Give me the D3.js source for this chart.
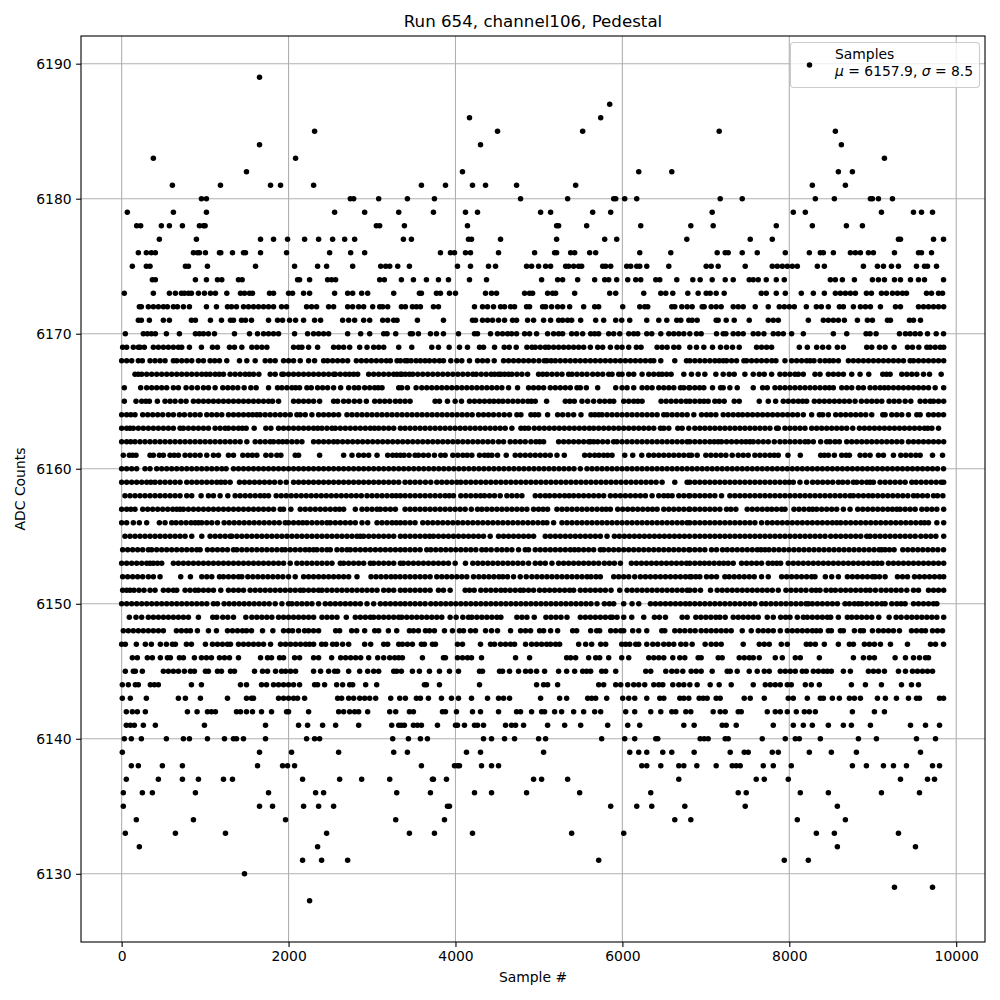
<!DOCTYPE html>
<html><head><meta charset="utf-8">
<script src="https://cdn.jsdelivr.net/npm/d3@7/dist/d3.min.js"></script>
<style>html,body{margin:0;padding:0;background:#fff}svg{display:block}text{font-family:"DejaVu Sans",sans-serif;fill:#000}</style>
</head><body><svg id="c" width="1000" height="1000"></svg>
<script>
const title="Run 654, channel106, Pedestal", xLabel="Sample #", yLabel="ADC Counts";
const xTicks=[0,2000,4000,6000,8000,10000], yTicks=[6130,6140,6150,6160,6170,6180,6190];
const legendTitle="Samples";
const s6128=[2252],s6129=[9260,9716],s6130=[1472],s6131=[2168,2396,2708,5716,7940,8228],s6132=[212,2348,8576,9512];
const s6133=[44,644,1244,2456,3448,3748,4204,5392,6016,8324,8540,9308];
const s6134=[176,860,1964,3284,3868,6628,6820,8096,8672];
const s6135=[20,1652,1808,2180,2360,2540,3904,3928,5860,6172,6352,6748,7472,8576];
const s6136=[20,248,368,884,1760,2324,2420,3296,3700,4228,4432,4852,5488,6340,7388,7484,8132,8468,9104,9560];
const s6137=[56,440,728,920,1220,1328,2168,2612,2876,3212,3724,3736,3892,4936,5032,5344,6676,7604,7700,7988,9332,9656,9740];
const s6138=[116,200,488,728,1628,1928,1988,2072,3592,3988,4024,4048,4312,4432,4516,6232,6292,6460,6676,6736,6892,7124,7316,7364,7412,7688,7808,8024,8756,8924,9128,9248,9404,9716,9800];
const s6139=[8,1652,2036,2600,3260,3424,4132,4300,5056,6088,6196,6292,6484,6592,6860,7292,7460,7508,7796,7868,8240,8504,8804,9572];
const s6140=[32,116,236,536,740,812,1028,1232,1340,1376,1460,1724,2216,2312,2372,3248,3436,3580,3664,4336,4432,4588,4708,4996,5080,5752,6028,6148,6400,6424,6932,6980,7028,7232,7268,7676,7952,8072,8120,8372,8828,9044,9524,9752];
const s6141=[56,104,152,260,404,992,1724,2120,2228,2408,2564,2840,3236,3320,3352,3388,3496,3544,3592,3784,4000,4024,4108,4228,4264,4336,4600,4672,4720,4816,5104,5308,5500,5824,6064,6208,6736,6860,7196,7244,7364,7808,8048,8168,8276,8468,8648,8744,8972,9452,9632,9800];
const s6142=[56,128,188,284,788,904,1028,1076,1124,1376,1424,1496,1568,1676,1796,1976,2000,2240,2600,2660,2732,2792,2840,2948,3212,3284,3448,3496,3844,3880,4012,4204,4300,4516,4732,4780,4912,5032,5068,5188,5272,5416,5536,5668,5740,6040,6148,6340,6460,6592,6640,6760,6820,7088,7172,7232,7388,7424,7736,7832,7892,7976,8084,8180,8240,8312,8756,9020,9140];
const s6143=[8,104,296,680,764,944,1268,1496,1556,1580,1880,1940,2000,2060,2108,2192,2588,2636,2720,2780,2852,2912,2972,3044,3224,3332,3400,3532,3580,3676,3832,3952,4036,4192,4384,4516,4576,4648,5020,5248,5332,5584,5632,5680,5812,6004,6076,6148,6292,6448,6496,6688,6736,6796,6920,6968,7016,7124,7172,7460,7532,7700,7988,8048,8216,8372,8408,8516,8600,8720,8780,8852,9056,9152,9284,9428,9524,9560,9800,9848];
const s6144=[8,80,164,200,344,392,440,836,956,1424,1496,1676,1736,1820,1880,1940,2000,2060,2132,2312,2348,2432,2576,2648,2732,2768,2924,3056,3628,3652,3808,4288,4972,5056,5104,5224,5716,5776,5920,5980,6064,6136,6196,6268,6376,6436,6484,6604,6676,6736,6808,6896,7052,7160,7304,7568,7712,7772,7832,7892,7976,8024,8192,8264,8360,8744,8912,9104,9344,9464,9548];
const s6145=[44,140,164,248,500,560,620,680,752,824,872,1004,1040,1148,1196,1304,1352,1592,1688,1748,1844,1916,1964,2024,2084,2300,2384,2480,2552,2588,2720,2852,2948,3020,3080,3260,3296,3352,3484,3568,3688,3808,3928,4036,4288,4324,4528,4564,4648,4756,4840,4900,4972,5068,5236,5332,5428,5524,5572,5620,5752,5800,5920,6280,6340,6520,6592,6652,6724,6824,6884,6944,7076,7256,7292,7376,7520,7616,7700,7760,7892,7952,8012,8072,8156,8204,8288,8348,8408,8456,8504,8648,8732,8948,9008,9068,9140,9308,9392,9476,9536,9596,9656,9716];
const s6146=[128,188,308,368,464,548,584,692,740,872,956,1016,1076,1172,1232,1292,1400,1664,1748,1796,1892,1940,2072,2132,2300,2360,2516,2624,2684,2744,2804,2864,2960,3068,3140,3212,3272,3320,3364,3604,3856,3880,4024,4084,4144,4192,4312,4720,4888,5332,5380,5440,5596,5680,5728,5836,5992,6076,6316,6376,6436,6496,6604,6688,6748,6908,6944,7148,7196,7400,7460,7520,7568,7640,7832,7916,8072,8132,8360,8768,8888,8960,9020,9268,9392,9488,9560,9632,9668];
const s6147=[0,44,176,284,356,464,536,608,644,776,836,1004,1088,1148,1208,1268,1304,1400,1460,1520,1580,1640,1700,1784,1904,1964,2024,2084,2144,2204,2252,2300,2396,2444,2528,2576,2648,2720,2912,2984,3140,3188,3320,3364,3424,3484,3592,3628,3724,3760,4024,4084,4300,4420,4468,4540,4600,4660,4708,4840,4912,4972,5032,5092,5140,5200,5248,5476,5560,5632,5740,5800,5992,6040,6088,6160,6196,6292,6364,6424,6496,6556,6616,6700,6760,6836,6992,7064,7124,7184,7448,7640,7700,7760,7904,7976,8204,8252,8312,8420,8588,8720,8768,8900,8960,9020,9092,9212,9416,9692,9752,9848];
const s6148=[20,80,140,200,260,320,380,440,500,656,716,776,824,908,1040,1136,1268,1328,1388,1448,1496,1556,1688,1812,1940,2000,2048,2120,2192,2240,2300,2360,2564,2612,2756,2816,2912,3032,3080,3196,3296,3448,3496,3556,3640,3688,3748,3868,3964,4048,4096,4180,4240,4360,4432,4504,4660,4780,4840,4900,5008,5056,5140,5224,5404,5452,5620,5692,5728,5860,5920,5980,6016,6124,6196,6292,6472,6508,6628,6688,6748,6812,6872,6944,7004,7064,7124,7184,7244,7304,7436,7544,7628,7688,7748,7808,7892,7976,8036,8096,8156,8216,8276,8324,8372,8468,8504,8612,8648,8780,8852,8888,8996,9068,9128,9188,9248,9320,9464,9524,9584,9632,9716,9776,9836];
const s6149=[92,172,240,320,380,440,500,560,620,680,740,800,920,1092,1140,1212,1272,1340,1488,1560,1620,1680,1740,1800,1880,1940,2000,2060,2120,2180,2240,2300,2400,2460,2520,2580,2692,2800,2860,2920,2980,3020,3080,3140,3200,3260,3320,3356,3416,3476,3536,3596,3656,3716,3776,3836,3936,4008,4088,4156,4196,4256,4316,4376,4436,4496,4544,4736,4796,4856,4944,5084,5144,5204,5264,5336,5496,5556,5616,5676,5736,5796,5856,5880,5936,6016,6112,6256,6384,6444,6516,6716,6776,6880,6940,7000,7060,7120,7168,7232,7328,7388,7448,7508,7568,7628,7736,7808,7896,7956,8008,8096,8168,8216,8276,8336,8396,8456,8496,8588,8696,8748,8808,8868,8928,8988,9072,9196,9280,9340,9408,9468,9528,9588,9648,9708,9768,9850];
const s6150=[0,60,120,180,240,300,360,420,480,540,600,660,720,780,840,900,960,1020,1100,1148,1228,1288,1348,1408,1468,1528,1588,1648,1708,1768,1840,1920,2000,2040,2100,2160,2220,2280,2360,2440,2500,2560,2620,2680,2740,2800,2860,2940,3020,3100,3160,3220,3280,3340,3396,3456,3516,3576,3636,3704,3764,3824,3884,3944,4004,4064,4124,4184,4244,4304,4364,4424,4484,4544,4604,4664,4724,4784,4844,4904,4964,5024,5084,5144,5204,5264,5324,5384,5444,5504,5564,5624,5696,5784,5844,5896,6016,6116,6196,6336,6396,6456,6516,6576,6636,6696,6756,6808,6868,6928,6988,7048,7108,7168,7228,7288,7348,7408,7468,7528,7588,7668,7720,7780,7840,7900,7960,8020,8080,8140,8200,8228,8276,8336,8396,8456,8516,8576,8668,8720,8780,8828,8868,8928,8988,9048,9108,9148,9228,9288,9340,9388,9488,9548,9608,9668,9728,9768];
const s6151=[12,60,100,148,208,268,340,400,500,560,620,660,760,820,880,920,980,1040,1100,1188,1280,1340,1400,1460,1540,1600,1660,1720,1780,1840,1900,1960,2020,2080,2140,2180,2240,2300,2360,2400,2460,2520,2580,2640,2700,2760,2820,2880,2940,3000,3060,3140,3200,3260,3340,3396,3456,3516,3576,3636,3696,3796,3856,3936,4116,4168,4224,4304,4364,4424,4484,4544,4596,4656,4716,4776,4816,4876,4936,5008,5068,5128,5188,5248,5308,5368,5416,5496,5556,5616,5676,5736,5796,5864,5968,6056,6116,6176,6236,6296,6356,6416,6476,6536,6596,6656,6716,6776,6808,6868,6936,7056,7136,7196,7256,7316,7376,7436,7496,7556,7616,7676,7736,7796,7868,7960,8020,8080,8140,8200,8268,8320,8368,8440,8500,8552,8616,8676,8736,8796,8856,8916,8968,9032,9100,9160,9220,9280,9340,9408,9488,9548,9668,9728,9788,9850];
const s6152=[12,72,132,192,252,320,380,460,708,824,960,1020,1080,1172,1220,1280,1340,1400,1440,1512,1572,1632,1692,1752,1812,1872,1932,2000,2080,2180,2240,2300,2360,2420,2480,2540,2600,2660,2720,2820,2988,3048,3108,3168,3228,3280,3336,3396,3456,3516,3576,3636,3696,3776,3836,3896,3956,4016,4076,4136,4216,4280,4340,4400,4460,4520,4568,4624,4696,4776,4848,4916,4976,5036,5096,5156,5216,5276,5336,5396,5456,5516,5576,5624,5684,5736,5896,5956,6016,6076,6148,6216,6276,6336,6396,6456,6516,6576,6636,6696,6756,6808,6828,6880,6928,7008,7068,7128,7228,7280,7340,7400,7460,7520,7580,7668,7748,7908,7968,8028,8088,8148,8208,8268,8308,8432,8508,8588,8696,8756,8816,8876,8936,8996,9028,9080,9148,9296,9356,9416,9500,9560,9620,9680,9740,9800,9850];
const s6153=[0,60,120,180,240,300,340,380,430,480,620,680,740,800,860,920,980,1040,1100,1160,1220,1280,1340,1400,1460,1520,1580,1640,1700,1760,1820,1880,1940,2020,2100,2160,2220,2280,2340,2400,2460,2520,2620,2660,2720,2780,2840,2900,2980,3020,3080,3140,3200,3260,3340,3376,3436,3496,3556,3616,3676,3736,3796,3856,3916,3996,4120,4208,4268,4328,4388,4448,4508,4568,4628,4688,4748,4808,4876,4956,5016,5076,5156,5236,5296,5356,5416,5476,5536,5596,5656,5716,5784,5844,5904,5976,6108,6168,6228,6288,6348,6408,6468,6528,6588,6648,6708,6768,6808,6868,6928,6984,7040,7100,7160,7214,7268,7328,7428,7488,7548,7608,7668,7748,7800,7850,7896,7988,8048,8108,8168,8228,8288,8348,8408,8468,8528,8588,8648,8708,8768,8828,8888,8948,9008,9058,9108,9188,9248,9308,9368,9428,9488,9548,9608,9668,9728,9788,9850];
const s6154=[12,72,132,192,252,320,360,420,480,540,600,660,720,780,840,900,940,1028,1088,1148,1208,1268,1340,1380,1440,1500,1560,1620,1680,1740,1800,1860,1920,1960,2020,2080,2140,2200,2250,2300,2340,2400,2460,2500,2580,2640,2700,2740,2800,2860,2920,2980,3040,3100,3160,3220,3280,3340,3396,3456,3516,3576,3656,3704,3764,3824,3884,3944,4004,4064,4124,4184,4244,4316,4368,4428,4496,4556,4616,4676,4756,4836,4876,4956,5016,5076,5136,5196,5256,5316,5376,5426,5476,5536,5596,5656,5736,5776,5836,5896,5956,6016,6076,6136,6196,6256,6316,6376,6436,6496,6556,6616,6676,6736,6796,6808,6868,6928,6988,7068,7128,7200,7256,7316,7376,7436,7496,7556,7616,7660,7708,7756,7816,7876,7936,7996,8056,8116,8176,8236,8296,8356,8416,8476,8536,8596,8656,8716,8776,8836,8896,8956,9016,9076,9108,9148,9200,9256,9360,9420,9480,9540,9600,9660,9720,9780,9848];
const s6155=[40,100,160,220,280,340,400,460,520,580,640,700,760,840,960,1060,1120,1180,1240,1300,1320,1380,1440,1500,1560,1620,1680,1740,1800,1860,1920,1980,2040,2100,2160,2220,2280,2340,2400,2460,2520,2580,2640,2700,2760,2820,2860,2900,2960,3020,3080,3140,3200,3260,3340,3396,3456,3516,3576,3636,3690,3736,3796,3856,3916,3976,4036,4096,4156,4216,4276,4336,4416,4516,4576,4636,4696,4756,4816,4876,4936,5076,5136,5196,5256,5316,5376,5436,5496,5556,5616,5676,5736,5816,5904,5964,6024,6084,6144,6204,6264,6324,6384,6444,6504,6564,6624,6684,6744,6804,6868,6928,6988,7048,7108,7168,7228,7288,7348,7408,7468,7528,7588,7648,7708,7768,7828,7888,7948,8008,8068,8128,8188,8248,8308,8368,8428,8496,8556,8616,8676,8736,8796,8856,8928,8968,9028,9088,9148,9208,9268,9328,9388,9448,9508,9576,9636,9696,9756,9850];
const s6156=[0,60,140,212,300,452,520,600,652,712,772,832,880,920,960,1020,1080,1148,1228,1288,1348,1408,1468,1528,1588,1648,1708,1768,1828,1888,1960,2000,2060,2120,2170,2220,2280,2340,2400,2460,2500,2560,2620,2680,2740,2800,2880,2948,3060,3120,3180,3240,3290,3340,3396,3456,3516,3608,3668,3728,3788,3848,3908,3968,4028,4088,4148,4208,4268,4328,4388,4448,4508,4568,4628,4688,4748,4808,4868,4928,4988,5048,5096,5176,5276,5336,5396,5456,5516,5576,5636,5696,5756,5816,5876,5936,5996,6056,6116,6176,6236,6296,6356,6416,6476,6536,6596,6656,6716,6776,6808,6868,6928,6988,7048,7108,7168,7228,7288,7348,7408,7468,7528,7588,7668,7736,7796,7856,7916,7976,8036,8096,8156,8216,8276,8336,8396,8456,8516,8568,8616,8676,8736,8796,8856,8916,8976,9036,9096,9156,9216,9276,9336,9396,9456,9516,9576,9620,9668,9768,9850];
const s6157=[0,60,110,160,252,312,372,432,492,552,612,660,700,740,800,860,920,980,1040,1100,1160,1220,1280,1340,1400,1460,1520,1580,1640,1700,1760,1820,1900,1940,2028,2140,2200,2260,2320,2380,2440,2500,2560,2610,2660,2800,2880,2940,3000,3060,3100,3160,3220,3280,3396,3456,3516,3576,3636,3696,3756,3816,3876,3936,3996,4056,4116,4190,4264,4316,4376,4436,4496,4556,4616,4676,4736,4796,4856,4936,4996,5050,5104,5216,5276,5336,5396,5456,5516,5576,5636,5696,5756,5806,5856,5944,6004,6064,6124,6184,6244,6304,6360,6416,6496,6556,6616,6676,6736,6796,6808,6868,6928,6988,7048,7108,7168,7248,7300,7360,7496,7556,7616,7676,7736,7790,7848,7908,7948,8056,8116,8176,8236,8280,8328,8388,8448,8508,8568,8648,8728,8820,8880,8940,9000,9060,9120,9180,9235,9288,9328,9388,9448,9508,9588,9648,9708,9768,9850];
const s6158=[40,100,160,220,280,340,400,460,520,580,640,700,780,840,952,1040,1100,1180,1272,1360,1420,1480,1540,1600,1660,1710,1760,1852,1912,1972,2032,2092,2152,2212,2272,2332,2392,2452,2512,2572,2632,2692,2752,2812,2872,2940,3000,3060,3120,3180,3240,3290,3340,3396,3456,3516,3576,3636,3696,3756,3816,3876,3926,3976,4064,4124,4184,4244,4300,4348,4408,4468,4536,4616,4676,4736,4796,4956,5016,5076,5128,5188,5248,5308,5362,5416,5476,5536,5596,5656,5716,5776,5856,5916,5976,6036,6096,6156,6216,6276,6356,6436,6496,6546,6596,6676,6736,6796,6808,6868,6928,6988,7048,7108,7188,7288,7348,7408,7468,7528,7588,7648,7708,7768,7828,7888,7948,8008,8068,8128,8188,8248,8308,8368,8428,8488,8548,8608,8668,8728,8768,8828,8888,8948,9000,9060,9120,9180,9240,9300,9360,9420,9488,9536,9596,9656,9728,9776,9840];
const s6159=[0,60,120,180,240,300,350,400,460,520,580,640,700,780,840,900,960,1020,1080,1140,1190,1240,1300,1412,1472,1532,1592,1652,1712,1772,1832,1900,1972,2060,2120,2180,2240,2300,2360,2420,2480,2540,2600,2660,2720,2780,2840,2900,2960,3020,3080,3140,3200,3260,3320,3396,3456,3516,3576,3640,3704,3776,3836,3896,3956,4016,4064,4124,4184,4244,4304,4364,4424,4484,4544,4604,4664,4724,4784,4844,4904,4964,5024,5084,5144,5204,5264,5324,5384,5444,5504,5564,5624,5684,5744,5804,5864,5924,5984,6044,6104,6164,6224,6284,6344,6404,6476,6628,6776,6808,6868,6928,6988,7048,7108,7168,7228,7288,7348,7408,7468,7528,7588,7648,7708,7768,7828,7888,7948,8000,8048,8128,8208,8280,8340,8400,8460,8520,8588,8640,8700,8768,8808,8868,8928,8968,9008,9088,9148,9208,9268,9328,9388,9468,9520,9580,9640,9700,9760,9820,9850];
const s6160=[0,60,120,180,280,340,420,480,540,600,660,720,780,840,900,960,1020,1080,1140,1200,1252,1340,1400,1460,1520,1580,1640,1700,1760,1820,1880,1940,2000,2060,2120,2180,2240,2300,2360,2420,2480,2540,2600,2660,2720,2780,2840,2900,2960,3020,3080,3140,3200,3260,3320,3380,3440,3500,3560,3620,3680,3740,3800,3860,3920,3980,4040,4100,4160,4220,4280,4340,4400,4460,4520,4580,4640,4700,4760,4820,4880,4940,5000,5060,5120,5180,5240,5300,5360,5420,5496,5576,5636,5696,5756,5816,5876,5936,5996,6056,6116,6176,6236,6296,6356,6416,6476,6536,6596,6656,6716,6776,6836,6896,6956,7016,7076,7136,7196,7256,7316,7376,7436,7496,7556,7616,7676,7736,7796,7856,7916,7976,8036,8096,8156,8216,8276,8336,8396,8456,8516,8576,8636,8696,8756,8816,8876,8936,8996,9056,9116,9176,9236,9296,9356,9416,9476,9536,9596,9656,9716,9776,9848];
const s6161=[20,92,130,172,340,380,452,500,580,630,680,760,820,880,940,1020,1100,1160,1280,1340,1452,1512,1566,1620,1728,1790,1860,1908,2080,2120,2372,2660,2760,2840,2900,2960,3060,3188,3248,3294,3340,3384,3444,3516,3556,3616,3676,3748,3824,3876,3968,4028,4088,4140,4196,4288,4348,4392,4436,4504,4608,4716,4776,4836,4896,4956,5016,5076,5136,5216,5304,5548,5608,5668,5720,5776,5824,5876,6028,6124,6232,6316,6376,6436,6496,6556,6616,6676,6736,6796,6828,6896,7000,7060,7120,7180,7240,7316,7388,7448,7508,7588,7648,7708,7768,7820,7868,7984,8132,8376,8420,8468,8540,8628,8680,8720,8848,8908,8968,9068,9128,9248,9336,9396,9456,9516,9568,9716,9836];
const s6162=[0,60,108,160,220,280,340,400,460,520,580,640,700,760,820,880,940,1000,1060,1120,1180,1240,1300,1360,1420,1500,1600,1660,1720,1780,1820,1880,1930,1980,2040,2100,2160,2300,2360,2420,2480,2540,2588,2648,2708,2768,2828,2888,2948,3008,3068,3128,3188,3248,3308,3368,3428,3488,3548,3608,3668,3728,3788,3848,3908,3968,4028,4088,4148,4208,4268,4328,4388,4448,4516,4576,4656,4716,4776,4836,4904,4964,5010,5056,5236,5296,5356,5416,5476,5536,5596,5616,5656,5704,5764,5824,5896,5936,5996,6056,6116,6176,6236,6296,6356,6416,6476,6536,6596,6656,6716,6776,6808,6868,6928,6988,7048,7100,7148,7188,7248,7308,7368,7428,7480,7528,7568,7628,7688,7748,7820,7888,7948,8008,8068,8128,8188,8228,8288,8376,8448,8488,8548,8600,8688,8748,8808,8868,8928,8988,9048,9108,9168,9228,9288,9348,9428,9488,9548,9608,9668,9728,9788,9850];
const s6163=[0,60,100,140,200,260,320,380,440,500,560,620,700,740,800,860,920,980,1040,1120,1180,1240,1280,1340,1400,1446,1492,1588,1728,1788,1880,1940,2000,2060,2120,2180,2240,2300,2350,2400,2460,2520,2560,2620,2680,2740,2800,2860,2920,2980,3030,3080,3140,3200,3260,3340,3396,3456,3516,3576,3636,3696,3756,3816,3876,3936,3996,4056,4116,4176,4236,4296,4356,4416,4476,4536,4596,4676,4784,4830,4876,4944,5004,5064,5124,5184,5244,5304,5364,5424,5484,5544,5604,5656,5716,5776,5836,5896,5956,6016,6076,6136,6196,6256,6316,6376,6456,6496,6556,6664,6716,6796,6868,6928,6988,7048,7108,7168,7228,7288,7348,7408,7468,7528,7588,7648,7708,7768,7848,7868,7948,8008,8068,8128,8188,8268,8328,8388,8448,8508,8568,8628,8688,8760,8840,8900,8960,9020,9080,9140,9200,9260,9320,9380,9440,9500,9560,9620,9660,9708,9788];
const s6164=[0,60,110,160,252,312,372,432,492,560,620,692,752,820,880,940,1020,1080,1140,1200,1280,1340,1400,1460,1520,1570,1620,1660,1720,1780,1840,1900,1960,2020,2100,2140,2200,2280,2360,2420,2480,2540,2600,2700,2760,2820,2880,2940,3000,3060,3120,3180,3240,3300,3360,3420,3480,3540,3600,3660,3720,3780,3840,3900,3960,4020,4080,4140,4200,4276,4336,4396,4456,4520,4584,4648,4736,4784,4904,4950,4996,5104,5224,5284,5350,5416,5504,5624,5670,5716,5756,5816,5876,5936,5996,6056,6116,6176,6236,6296,6356,6416,6496,6536,6596,6656,6716,6776,6856,6948,7008,7060,7120,7208,7268,7328,7388,7440,7500,7560,7620,7680,7740,7800,7860,7920,7980,8040,8100,8168,8268,8360,8400,8468,8556,8616,8676,8736,8796,8856,8916,8988,9120,9148,9228,9288,9348,9428,9528,9568,9668,9728,9788,9848];
const s6165=[32,172,240,290,332,428,520,580,640,710,772,860,920,980,1040,1100,1160,1220,1280,1340,1400,1460,1520,1580,1640,1700,1760,1808,1880,2060,2120,2180,2240,2300,2372,2540,2588,2660,2720,2788,2852,2932,3032,3092,3152,3212,3280,3336,3396,3456,3756,3808,3904,3996,4072,4168,4228,4288,4348,4408,4460,4516,4568,4628,4688,4748,4808,4868,4910,4956,5092,5316,5370,5424,5516,5584,5656,5728,5788,5848,5896,6016,6076,6136,6186,6236,6464,6524,6584,6644,6704,6764,6808,6868,6928,6978,7028,7108,7160,7220,7340,7400,7640,7748,7836,7928,7988,8048,8108,8160,8208,8300,8360,8420,8480,8540,8600,8660,8720,8788,8864,8928,8988,9048,9108,9196,9256,9316,9388,9456,9568,9628,9688,9728,9788,9850];
const s6166=[32,228,300,360,420,480,540,620,680,772,840,908,980,1040,1120,1212,1272,1332,1392,1468,1548,1612,1760,1868,1920,1980,2040,2085,2132,2220,2272,2348,2408,2468,2540,2624,2720,2788,2840,2912,2972,3032,3075,3120,3320,3356,3424,3528,3596,3656,3716,3776,3836,3896,3956,4016,4076,4136,4196,4256,4316,4376,4436,4496,4556,4636,4744,4876,4936,4996,5056,5136,5196,5256,5316,5376,5456,5496,5568,5704,5920,5996,6056,6136,6236,6296,6356,6436,6496,6556,6616,6696,6736,6796,6808,6868,6925,6976,7080,7176,7208,7288,7376,7568,7680,7736,7828,7888,7948,8008,8068,8128,8188,8248,8308,8368,8428,8480,8528,8628,8688,8748,8828,8888,8968,9028,9088,9140,9188,9248,9308,9368,9428,9488,9548,9608,9668,9748,9850];
const s6167=[160,200,240,300,360,420,480,540,600,660,720,780,840,900,960,1012,1060,1120,1170,1220,1300,1360,1420,1480,1530,1580,1644,1780,1840,1920,1940,2000,2060,2120,2180,2240,2300,2360,2420,2480,2540,2560,2620,2680,2730,2780,2828,2960,3020,3080,3140,3200,3260,3300,3340,3356,3400,3448,3488,3548,3608,3668,3728,3788,3848,3908,3968,4028,4088,4148,4208,4248,4308,4368,4428,4470,4516,4544,4590,4636,4676,4736,4796,4864,4996,5046,5096,5156,5216,5276,5356,5396,5456,5516,5576,5644,5704,5764,5836,5876,5956,5996,6076,6136,6236,6316,6376,6436,6476,6530,6584,6736,6828,6908,6988,7120,7208,7280,7340,7468,7568,7640,7700,7788,7888,7948,8008,8068,8108,8168,8308,8368,8468,8528,8588,8648,8748,8848,8952,9120,9165,9208,9348,9408,9468,9528,9608,9680,9820];
const s6168=[0,60,120,200,248,340,400,460,520,620,660,720,780,840,920,980,1060,1115,1172,1260,1412,1500,1600,1720,1780,1840,1940,2000,2060,2140,2240,2312,2420,2468,2528,2588,2648,2708,2812,2872,2932,2992,3052,3112,3172,3220,3300,3340,3396,3424,3468,3528,3580,3636,3688,3748,3808,3856,3944,4016,4076,4168,4264,4324,4384,4464,4576,4636,4696,4756,4816,4876,4936,5000,5064,5096,5146,5196,5256,5316,5376,5436,5496,5556,5616,5676,5736,5796,5856,5916,5976,6036,6096,6156,6216,6276,6336,6376,6460,6628,6768,6808,6868,6928,6988,7048,7108,7160,7208,7248,7308,7368,7456,7488,7548,7608,7668,7728,7790,7840,7948,8028,8088,8148,8208,8250,8296,8368,8428,8480,8528,8588,8708,8768,8828,8888,8948,9008,9068,9128,9188,9248,9308,9368,9448,9488,9548,9608,9668,9728,9788,9850];
const s6169=[12,60,140,200,220,272,380,440,500,560,620,680,720,812,956,1088,1148,1292,1352,1440,1560,1620,1680,1740,2060,2120,2160,2240,2348,2540,2600,2660,2732,2852,2940,3020,3080,3140,3320,3476,3716,3796,3924,4048,4144,4288,4336,4468,4584,4644,4728,4856,4916,4956,5016,5076,5116,5176,5236,5296,5356,5416,5476,5536,5616,5704,5764,5856,5936,5996,6076,6168,6224,6416,6476,6536,6616,6676,6808,6888,6976,7080,7176,7248,7320,7400,7608,7668,7728,7788,8120,8216,8328,8400,8472,8576,8648,8928,8988,9080,9148,9256,9416,9476,9552,9648,9688,9748,9808,9850];
const s6170=[44,260,308,356,404,536,692,884,932,980,1040,1112,1352,1532,1628,1700,1760,1820,1880,2072,2228,2300,2360,2420,2480,2708,2864,2972,3140,3180,3284,3460,3484,3556,3700,3772,3856,4036,4228,4264,4420,4504,4564,4624,4672,4732,4828,4888,4972,5104,5176,5236,5284,5392,5452,5524,5620,5668,5716,5836,5896,5968,6076,6136,6184,6292,6352,6460,6556,6616,6676,6736,6808,6888,6944,7128,7208,7240,7328,7388,7448,7568,7628,7696,7808,7868,7928,8028,8168,8528,8688,8920,8968,9040,9320,9392,9448,9508,9568,9656,9760,9848];
const s6171=[200,236,332,500,572,836,884,1064,1196,1304,1340,1436,1484,1556,1760,1868,1928,2012,2084,2180,2312,2384,2648,2720,2792,2900,2972,3128,3188,3260,3300,3544,3856,4204,4240,4324,4384,4444,4516,4588,4684,4732,4864,4936,5056,5140,5236,5284,5344,5392,5500,5680,5776,5920,5992,6088,6292,6436,6532,6652,6700,6796,6836,6896,7124,7148,7244,7340,7520,7748,7808,7868,8228,8408,8468,8528,8588,8660,8816,8936,8996,9176,9212,9440,9488,9572];
const s6172=[212,236,320,380,440,500,548,620,668,740,812,1016,1136,1268,1316,1376,1460,1520,1580,1640,1700,1760,1820,1916,1976,2216,2276,2336,2480,2540,2708,2768,2840,2900,3008,3092,3128,3188,3352,3400,3484,3532,3580,3736,3796,4228,4324,4384,4456,4540,4588,4660,4708,4852,4888,5044,5080,5152,5224,5284,5368,5536,5668,5716,6004,6208,6268,6304,6592,6628,6712,6776,6836,6956,6980,7064,7124,7184,7328,7388,7448,7592,7748,7880,7940,8000,8060,8204,8324,8384,8468,8600,8648,8768,8852,8912,8972,9092,9272,9332,9548,9608,9668,9728,9788,9850];
const s6173=[32,380,572,644,716,752,800,836,920,992,1064,1124,1260,1424,1472,1532,1568,1772,1820,2000,2048,2180,2252,2552,2708,2768,2876,2948,3260,3568,3592,3772,3820,3928,4000,4360,4432,4492,4828,4888,4924,5104,5164,5200,5428,5848,5920,6256,6460,6520,6604,6784,6908,7004,7052,7124,7220,7664,7724,7844,7952,8144,8288,8420,8552,8612,8672,8732,8792,8924,8984,9104,9164,9236,9296,9356,9404,9644,9704,9788,9836];
const s6174=[368,404,884,1016,1148,1200,1400,1444,2108,2132,2252,2468,2516,2564,3092,3148,3352,3496,3652,3796,3916,4168,4372,5032,5224,5284,5464,5668,5788,5836,5932,6064,6160,6220,6400,6448,6652,6844,6932,7076,7232,7328,7520,7568,7628,7724,7844,7940,8492,8552,8636,8780,8996,9068,9140,9260,9332,9452,9548,9620,9848];
const s6175=[128,296,340,764,800,1028,1604,2072,2348,2456,2768,3104,3164,3212,3308,3448,4024,4180,4396,4480,4852,4912,4996,5080,5140,5320,5356,5416,5476,5512,5764,5800,5860,6052,6100,6172,6208,6292,6556,7004,7064,7148,7472,7796,7856,7916,7976,8036,8096,8336,8420,8888,9056,9128,9224,9308,9524,9620,9656,9764];
const s6176=[200,296,356,404,860,908,932,1004,1172,1188,1328,1460,1484,1664,1976,2492,2744,2912,3820,3940,3988,4120,4180,4516,4948,5188,5212,5380,5428,5608,5680,6208,6580,7136,7232,7268,7436,7616,7952,8240,8372,8408,8528,8732,8792,8852,8948,9008,9260,9548,9584,9704];
const s6177=[452,896,1664,1820,1988,2192,2360,2528,2672,2792,3376,3472,4156,4192,4540,5212,5788,5932,6772,7532,7796,9308,9332,9728,9848];
const s6178=[180,228,476,572,728,932,980,1000,3052,3092,3388,4144,5212,5236,5572,6220,6820,7088,7844,8276,8684,8876];
const s6179=[68,620,1016,2552,2912,3320,3736,4120,4264,5020,5140,5644,5860,7076,8048,8192,9104,9488,9584,9716];
const s6180=[956,1016,2740,2780,3080,3424,3748,4780,5344,5896,5920,6028,6172,7172,7436,8312,8540,8972,8996,9068,9236];
const s6181=[608,1184,1784,1904,2300,3592,3880,4204,4360,4732,5440,8276,8672];
const s6182=[1496,4084,6196,6592,8588,8756];
const s6183=[380,2084,9140],s6184=[1652,4300,8624],s6185=[2312,4504,5524,7160,8552],s6186=[4168,5740],s6187=[5848],s6189=[1652];

const rowValues=[6128,6129,6130,6131,6132,6133,6134,6135,6136,6137,6138,6139,6140,6141,6142,6143,6144,6145,6146,6147,6148,6149,6150,6151,6152,6153,6154,6155,6156,6157,6158,6159,6160,6161,6162,6163,6164,6165,6166,6167,6168,6169,6170,6171,6172,6173,6174,6175,6176,6177,6178,6179,6180,6181,6182,6183,6184,6185,6186,6187,6189];
const rowSamples=[s6128,s6129,s6130,s6131,s6132,s6133,s6134,s6135,s6136,s6137,s6138,s6139,s6140,s6141,s6142,s6143,s6144,s6145,s6146,s6147,s6148,s6149,s6150,s6151,s6152,s6153,s6154,s6155,s6156,s6157,s6158,s6159,s6160,s6161,s6162,s6163,s6164,s6165,s6166,s6167,s6168,s6169,s6170,s6171,s6172,s6173,s6174,s6175,s6176,s6177,s6178,s6179,s6180,s6181,s6182,s6183,s6184,s6185,s6186,s6187,s6189];

const svg=d3.select("#c");
const L=81,R=985,T=36,B=942;
const x=d3.scaleLinear().domain([-487,10345]).range([L,R]);
const y=d3.scaleLinear().domain([6124.95,6192.05]).range([B,T]);
const grid=svg.append("g").attr("stroke","#b0b0b0").attr("stroke-width",1.1);
grid.selectAll("line.v").data(xTicks).join("line").attr("class","v").attr("x1",d=>x(d)).attr("x2",d=>x(d)).attr("y1",T).attr("y2",B);
grid.selectAll("line.h").data(yTicks).join("line").attr("class","h").attr("y1",d=>y(d)).attr("y2",d=>y(d)).attr("x1",L).attr("x2",R);
const pts=rowValues.flatMap((v,i)=>rowSamples[i].map(s=>({s,v})));
svg.append("g").attr("fill","#000").selectAll("circle").data(pts).join("circle")
  .attr("cx",d=>x(d.s)).attr("cy",d=>y(d.v)).attr("r",2.75);
const ax=svg.append("g").attr("transform",`translate(0,${B})`).call(d3.axisBottom(x).tickValues(xTicks).tickFormat(d3.format("d")).tickSizeOuter(0).tickSize(4.9).tickPadding(4.5));
const ay=svg.append("g").attr("transform",`translate(${L},0)`).call(d3.axisLeft(y).tickValues(yTicks).tickFormat(d3.format("d")).tickSizeOuter(0).tickSize(4.9).tickPadding(4.5));
[ax,ay].forEach(a=>{a.select(".domain").remove();a.selectAll("line").attr("stroke","#000").attr("stroke-width",1.1);a.selectAll("text").attr("font-size",13.9).attr("font-family",'"DejaVu Sans",sans-serif').attr("fill","#000");});
svg.append("rect").attr("x",L).attr("y",T).attr("width",R-L).attr("height",B-T).attr("fill","none").attr("stroke","#000").attr("stroke-width",1.1);
svg.append("text").attr("x",(L+R)/2).attr("y",27).attr("text-anchor","middle").attr("font-size",16.67).text(title);
svg.append("text").attr("x",(L+R)/2).attr("y",982).attr("text-anchor","middle").attr("font-size",13.9).text(xLabel);
svg.append("text").attr("transform",`translate(25,${(T+B)/2}) rotate(-90)`).attr("text-anchor","middle").attr("font-size",13.9).text(yLabel);
const lg=svg.append("g");
lg.append("rect").attr("x",790.5).attr("y",42.5).attr("width",189).attr("height",45).attr("rx",3.5).attr("fill","#fff").attr("fill-opacity",.8).attr("stroke","#ccc").attr("stroke-width",1.1);
lg.append("circle").attr("cx",809.5).attr("cy",65).attr("r",2.75).attr("fill","#000");
lg.append("text").attr("x",835).attr("y",59).attr("font-size",13.9).text(legendTitle);
const t2=lg.append("text").attr("x",835).attr("y",76).attr("font-size",13.9);
t2.append("tspan").attr("font-style","italic").text("μ");
t2.append("tspan").text(" = 6157.9, ");
t2.append("tspan").attr("font-style","italic").text("σ");
t2.append("tspan").text(" = 8.5");
</script>
</body></html>
